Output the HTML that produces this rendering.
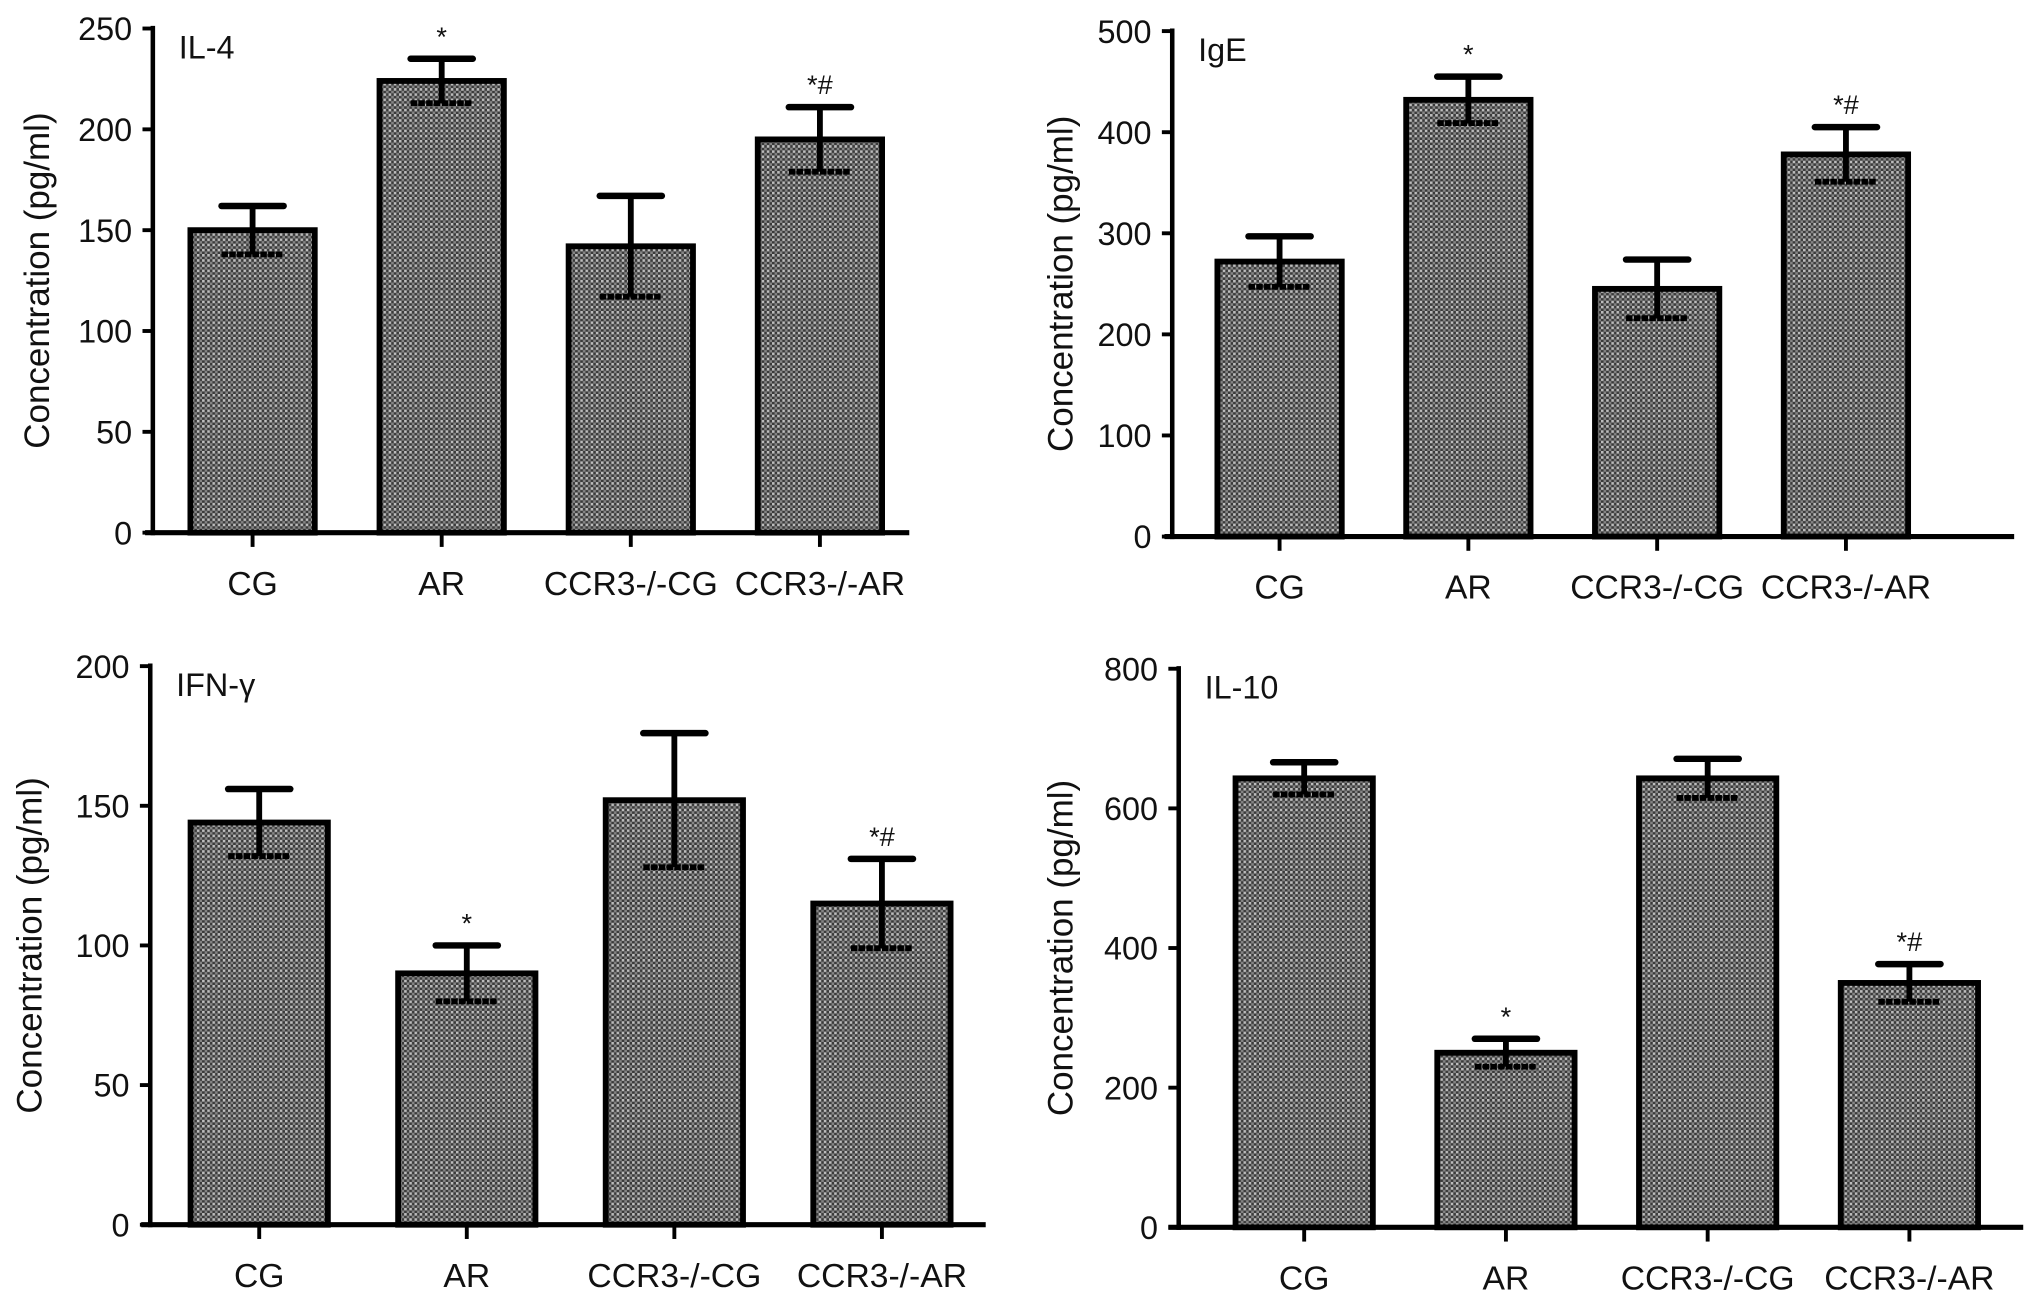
<!DOCTYPE html>
<html><head><meta charset="utf-8">
<style>
html,body{margin:0;padding:0;background:#fff;}
svg{display:block;}
text{font-family:"Liberation Sans",Arial,sans-serif;fill:#111;}
</style></head>
<body>
<svg id="fig" width="2031" height="1296" viewBox="0 0 1568 1000" preserveAspectRatio="none" xmlns="http://www.w3.org/2000/svg">
<defs>
<pattern id="hatch" width="4" height="4" patternUnits="userSpaceOnUse">
<rect width="4" height="4" fill="#3a3a3a"/>
<rect x="0" y="0" width="2" height="2" fill="#bdbdbd"/>
<rect x="2" y="2" width="2" height="2" fill="#858585"/>
</pattern>
</defs>
</svg>
<script>
const categories = ["CG","AR","CCR3-/-CG","CCR3-/-AR"];
const il4Values = [150,224,142,195];
const il4Err = [12,11,25,16];
const il4Marks = ["","*","","*#"];
const il4Ticks = [0,50,100,150,200,250];
const igeValues = [272,432,245,378];
const igeErr = [25,23,29,27];
const igeMarks = ["","*","","*#"];
const igeTicks = [0,100,200,300,400,500];
const ifnValues = [144,90,152,115];
const ifnErr = [12,10,24,16];
const ifnMarks = ["","*","","*#"];
const ifnTicks = [0,50,100,150,200];
const il10Values = [643,250,643,350];
const il10Err = [23,20,28,27];
const il10Marks = ["","*","","*#"];
const il10Ticks = [0,200,400,600,800];

const NS = "http://www.w3.org/2000/svg";
const svg = document.getElementById("fig");
function mk(tag, attrs, parent){
  const e = document.createElementNS(NS, tag);
  for (const k in attrs) e.setAttribute(k, attrs[k]);
  (parent||svg).appendChild(e);
  return e;
}
function panel(cfg, values, errs, marks, ticks){
  const g = mk("g", {});
  
  
  const maxV = ticks[ticks.length-1];
  const yS = v => cfg.y0 - (v/maxV)*(cfg.y0 - cfg.yTop);
  const band = (cfg.xEnd - cfg.xStart)/categories.length;
  const xC = i => cfg.xStart + band*(i+0.5);
  values.forEach((v,i)=>{
    const bw = cfg.bw;
    const r = mk("rect", {x:xC(i)-bw/2, y:yS(v), width:bw, height:cfg.y0-yS(v), fill:"url(#hatch)", stroke:"#000", "stroke-width":4.5}, g);
    
    
    const eg = mk("g", {stroke:"#000", "stroke-width":4.5}, g);
    
    
    const hi = yS(v+errs[i]), lo = yS(v-errs[i]);
    mk("line", {x1:xC(i), x2:xC(i), y1:hi, y2:lo}, eg);
    mk("line", {x1:xC(i)-24, x2:xC(i)+24, y1:hi, y2:hi, "stroke-width":5, "stroke-linecap":"round"}, eg);
    mk("line", {x1:xC(i)-24, x2:xC(i)+24, y1:lo, y2:lo, "stroke-width":4.5, "stroke-dasharray":"5 1"}, eg);
    if (marks[i]){
      const t = mk("text", {x:xC(i), y:hi-10, "text-anchor":"middle", "font-size":21}, g);
      t.textContent = marks[i];
      
      
    }
    const lab = mk("text", {x:xC(i), y:cfg.y0+48, "text-anchor":"middle", "font-size":26, "textLength":null}, g);
    lab.removeAttribute("textLength");
    lab.textContent = categories[i];
    
    
    mk("line", {x1:xC(i), x2:xC(i), y1:cfg.y0, y2:cfg.y0+11, stroke:"#000", "stroke-width":3}, g);
  });
  const ya = mk("line", {x1:cfg.ax, x2:cfg.ax, y1:cfg.yTop-2, y2:cfg.y0+2, stroke:"#000", "stroke-width":3.5}, g);
  
  
  const xa = mk("line", {x1:cfg.xLine0, x2:cfg.xLine1, y1:cfg.y0, y2:cfg.y0, stroke:"#000", "stroke-width":4}, g);
  
  
  ticks.forEach(t=>{
    mk("line", {x1:cfg.ax-8, x2:cfg.ax, y1:yS(t), y2:yS(t), stroke:"#000", "stroke-width":3}, g);
    const tl = mk("text", {x:cfg.ax-16, y:yS(t)+9, "text-anchor":"end", "font-size":25}, g);
    tl.textContent = t;
    
    
  });
  const yt = mk("text", {x:0, y:0, "text-anchor":"middle", "font-size":27, transform:`translate(${cfg.ytX},${(cfg.y0+cfg.yTop)/2}) rotate(-90)`}, g);
  yt.textContent = "Concentration (pg/ml)";
  
  
  const pt = mk("text", {x:cfg.ax+20, y:cfg.yTop+23, "font-size":25}, g);
  pt.textContent = cfg.title;
  
  
}
panel({name:"il-4", title:"IL-4", ax:118, y0:411, yTop:22, xStart:122, xEnd:706, bw:96, xLine0:112, xLine1:702, ytX:38}, il4Values, il4Err, il4Marks, il4Ticks);
panel({name:"ige", title:"IgE", ax:905, y0:414, yTop:24, xStart:915, xEnd:1498, bw:96, xLine0:899, xLine1:1555, ytX:828}, igeValues, igeErr, igeMarks, igeTicks);
panel({name:"ifn-gamma", title:"IFN-γ", ax:116, y0:945, yTop:514, xStart:120, xEnd:761, bw:106, xLine0:109, xLine1:761, ytX:32}, ifnValues, ifnErr, ifnMarks, ifnTicks);
panel({name:"il-10", title:"IL-10", ax:910, y0:947, yTop:516, xStart:929, xEnd:1552, bw:106, xLine0:902, xLine1:1562, ytX:828}, il10Values, il10Err, il10Marks, il10Ticks);
</script>
</body></html>
